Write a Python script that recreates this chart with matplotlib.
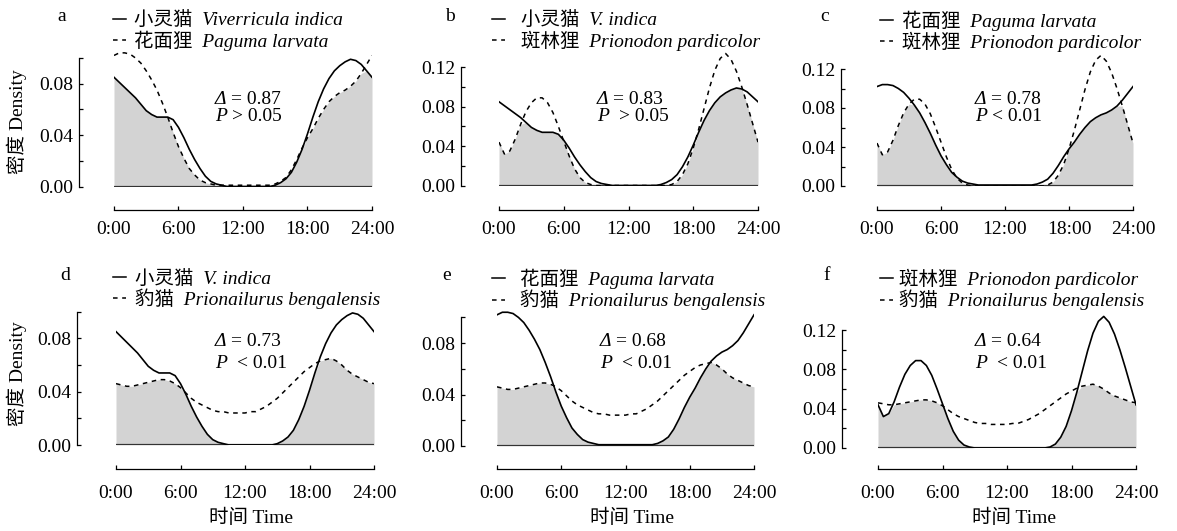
import numpy as np
import matplotlib
matplotlib.use("Agg")
import matplotlib.pyplot as plt
from matplotlib.lines import Line2D
from matplotlib.font_manager import FontProperties
from matplotlib.offsetbox import TextArea, HPacker, AnnotationBbox

plt.rcParams["font.family"] = ["Liberation Serif", "Noto Sans CJK SC"]
plt.rcParams["font.size"] = 14

# =========================
# Data (density, read every half hour)
# =========================
HOURS = np.arange(0, 24.5, 0.5)

VIVERRICULA = [
    0.085, 0.081, 0.077, 0.073, 0.069, 0.064, 0.059, 0.056, 0.054, 0.054,
    0.054, 0.052, 0.046, 0.038, 0.029, 0.021, 0.014, 0.008, 0.004, 0.002,
    0.001, 0.000, 0.000, 0.000, 0.000, 0.000, 0.000, 0.000, 0.000, 0.000,
    0.001, 0.003, 0.006, 0.011, 0.019, 0.029, 0.041, 0.054, 0.066, 0.076,
    0.084, 0.090, 0.094, 0.097, 0.099, 0.098, 0.095, 0.090, 0.085,
]
PAGUMA = [
    0.102, 0.104, 0.104, 0.103, 0.100, 0.096, 0.090, 0.083, 0.075, 0.065,
    0.054, 0.042, 0.031, 0.022, 0.014, 0.009, 0.005, 0.003, 0.002, 0.001,
    0.001, 0.001, 0.001, 0.001, 0.001, 0.001, 0.001, 0.001, 0.001, 0.001,
    0.002, 0.004, 0.007, 0.013, 0.021, 0.030, 0.038, 0.045, 0.053, 0.060,
    0.066, 0.070, 0.073, 0.075, 0.078, 0.082, 0.088, 0.095, 0.102,
]
PRIONODON = [
    0.044, 0.032, 0.035, 0.047, 0.062, 0.075, 0.084, 0.089, 0.089, 0.084,
    0.074, 0.060, 0.045, 0.030, 0.017, 0.008, 0.003, 0.001, 0.000, 0.000,
    0.000, 0.000, 0.000, 0.000, 0.000, 0.000, 0.000, 0.000, 0.000, 0.000,
    0.000, 0.000, 0.001, 0.004, 0.011, 0.022, 0.038, 0.057, 0.078, 0.099,
    0.117, 0.129, 0.134, 0.128, 0.116, 0.100, 0.082, 0.063, 0.044,
]
PRIONAILURUS = [
    0.046, 0.045, 0.044, 0.044, 0.045, 0.046, 0.047, 0.048, 0.049, 0.049,
    0.048, 0.046, 0.043, 0.039, 0.035, 0.032, 0.030, 0.028, 0.026, 0.025,
    0.025, 0.024, 0.024, 0.024, 0.024, 0.025, 0.025, 0.027, 0.029, 0.032,
    0.035, 0.039, 0.043, 0.047, 0.051, 0.055, 0.058, 0.061, 0.063, 0.064,
    0.065, 0.063, 0.060, 0.056, 0.053, 0.051, 0.049, 0.047, 0.046,
]

SPECIES = {
    "viv": VIVERRICULA,
    "pag": PAGUMA,
    "pri": PRIONODON,
    "ben": PRIONAILURUS,
}

PANEL_LETTERS = ["a", "b", "c", "d", "e", "f"]
PANEL_PAIRS = [("viv", "pag"), ("viv", "pri"), ("pag", "pri"),
               ("viv", "ben"), ("pag", "ben"), ("pri", "ben")]
LEGEND_LABELS = [
    ("小灵猫  Viverricula indica", "花面狸  Paguma larvata"),
    ("小灵猫  V. indica", "斑林狸  Prionodon pardicolor"),
    ("花面狸  Paguma larvata", "斑林狸  Prionodon pardicolor"),
    ("小灵猫  V. indica", "豹猫  Prionailurus bengalensis"),
    ("花面狸  Paguma larvata", "豹猫  Prionailurus bengalensis"),
    ("斑林狸  Prionodon pardicolor", "豹猫  Prionailurus bengalensis"),
]
DELTA_VALUES = ["0.87", "0.83", "0.78", "0.73", "0.68", "0.64"]
P_VALUES = ["> 0.05", "> 0.05", "< 0.01", "< 0.01", "< 0.01", "< 0.01"]

X_TICKS = [0, 6, 12, 18, 24]
X_TICK_LABELS = ["0:00", "6:00", "12:00", "18:00", "24:00"]

# =========================
# Layout in pixels
# =========================
W, H = 1177, 531
# x0, x1, y_zero, px_per_unit, spine_x, xaxis_y, y_top
AX_POS = [
    (114, 372, 186.5, 1285, 79, 209.5, 0.10),
    (499, 758, 185.5, 985, 461, 209.5, 0.12),
    (877, 1133, 186, 975, 841, 209.5, 0.12),
    (116, 374, 445, 1334, 77, 469.3, 0.10),
    (497, 754, 446, 1286, 461, 469.3, 0.10),
    (878, 1136, 448, 982, 842, 469.3, 0.12),
]
# legend x, legend gap px, legend mid y, stat x, stat y1, stat y2, p gap, letter x, letter y
TEXT_POS = [
    (113, 8, 31, 215, 99, 116, 3.5, 62, 21),
    (492, 16, 31, 597, 99, 116, 7.0, 450, 21),
    (880, 9, 31, 975, 99, 116, 3.5, 825, 21),
    (113, 9, 289.5, 215, 342, 363, 7.0, 65, 280),
    (492, 15, 289.5, 600, 342, 363, 7.0, 447, 280),
    (880, 6, 289.5, 975, 342, 363, 7.0, 827, 280),
]
X_PAD = [8.4, 8.4, 8.4, 11.3, 11.3, 11.3]
PX = 0.72  # points per pixel at dpi 100

fig = plt.figure(figsize=(W / 100, H / 100), dpi=100)

for i, letter in enumerate(PANEL_LETTERS):
    x0, x1, yz, scale, spine_x, xaxis_y, ytop = AX_POS[i]
    leg_x, leg_gap, leg_y, sx, sy1, sy2, pgap, lx, ly = TEXT_POS[i]
    ylim_top = 0.14

    ax = fig.add_axes([x0 / W, (H - yz) / H, (x1 - x0) / W, ylim_top * scale / H])
    ax.set_xlim(0, 24)
    ax.set_ylim(0, ylim_top)
    ax.patch.set_alpha(0)

    solid = np.array(SPECIES[PANEL_PAIRS[i][0]])
    dashed = np.array(SPECIES[PANEL_PAIRS[i][1]])

    ax.fill_between(HOURS, 0, np.minimum(solid, dashed), color="#d3d3d3", lw=0, zorder=1)
    ax.axhline(0, color="#333333", lw=1.6, zorder=2)
    ax.plot(HOURS, solid, color="black", lw=1.2, zorder=3)
    ax.plot(HOURS, dashed, color="black", lw=1.1, ls=(0, (3, 3)), zorder=3)

    # axes in R style
    ax.spines["top"].set_visible(False)
    ax.spines["right"].set_visible(False)
    ax.spines["left"].set_position(("outward", (x0 - spine_x) * PX))
    ax.spines["left"].set_bounds(0, ytop)
    ax.spines["bottom"].set_position(("outward", (xaxis_y - yz) * PX))
    ax.spines["bottom"].set_bounds(0, 24)
    for s in ("left", "bottom"):
        ax.spines[s].set_linewidth(0.9)

    major = [0, 0.04, 0.08, 0.12] if ytop > 0.11 else [0, 0.04, 0.08]
    ax.set_yticks(major)
    ax.set_yticklabels([f"{v:.2f}" for v in major])
    ax.set_yticks([0.02, 0.06, 0.10], minor=True)
    ax.tick_params(axis="y", which="both", direction="in", length=3, width=0.9, pad=4.3)

    ax.set_xticks(X_TICKS)
    ax.set_xticklabels(X_TICK_LABELS)
    ax.tick_params(axis="x", direction="in", length=3, width=0.9, pad=X_PAD[i])

    # legend
    handles = [Line2D([], [], color="black", lw=1.1),
               Line2D([], [], color="black", lw=1.1, ls=(0, (3, 3)))]
    prop = FontProperties(family=["Liberation Serif", "Noto Sans CJK SC"],
                          style="italic", size=14)
    ax.legend(handles, list(LEGEND_LABELS[i]), loc="center left",
              bbox_to_anchor=(leg_x / W, 1 - leg_y / H),
              bbox_transform=fig.transFigure, frameon=False, prop=prop,
              borderpad=0, borderaxespad=0, handlelength=0.68,
              handletextpad=leg_gap / 19.44, labelspacing=0.05)

    # overlap statistics
    for y_px, sym, rest, gap in ((sy1, "Δ", "= " + DELTA_VALUES[i], 3.5),
                                 (sy2, "P", P_VALUES[i], pgap)):
        box = HPacker(children=[TextArea(sym, textprops=dict(fontstyle="italic", fontsize=14)),
                                TextArea(rest, textprops=dict(fontsize=14))],
                      align="baseline", pad=0, sep=gap)
        ab = AnnotationBbox(box, (sx / W, 1 - y_px / H), xycoords="figure fraction",
                            box_alignment=(0, 0.5), frameon=False, pad=0)
        fig.add_artist(ab)

    fig.text(lx / W, 1 - ly / H, letter, ha="center", va="baseline", fontsize=14)

fig.text(17 / W, 1 - 122 / H, "密度 Density", rotation=90, ha="center", va="center", fontsize=14)
fig.text(17 / W, 1 - 374 / H, "密度 Density", rotation=90, ha="center", va="center", fontsize=14)
for xc in (251, 632, 1014):
    fig.text(xc / W, 1 - 518 / H, "时间 Time", ha="center", va="center", fontsize=14)

fig.savefig("out.png", dpi=100)
